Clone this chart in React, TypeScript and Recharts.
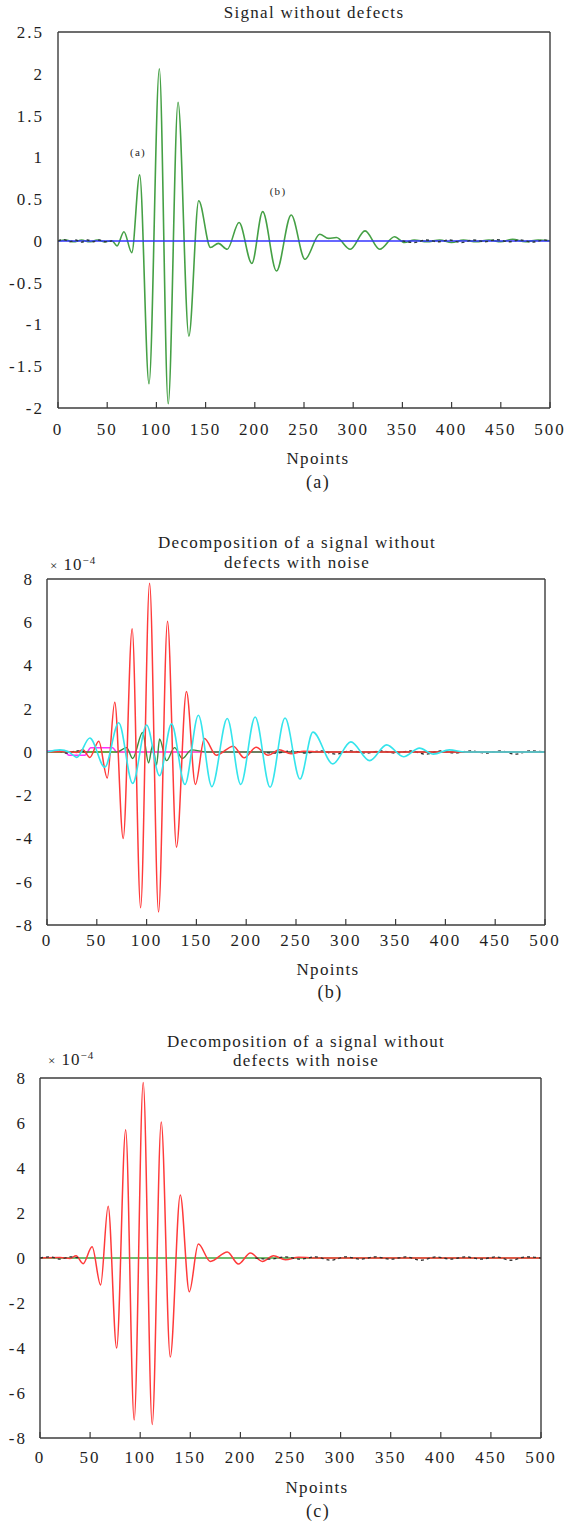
import { LineChart, Line, XAxis, YAxis } from "recharts";

const SERIF = '"Liberation Serif", "Times New Roman", Times, serif';
const AXIS = "#3c3c3c";
const INK = "#1e1e1e";

const X_TICKS = [0, 50, 100, 150, 200, 250, 300, 350, 400, 450, 500];
const Y_TICKS_A = [-2, -1.5, -1, -0.5, 0, 0.5, 1, 1.5, 2, 2.5];
const Y_TICKS_B = [-8, -6, -4, -2, 0, 2, 4, 6, 8];

// (a) signal without defects
const SIGNAL_N = [0, 8, 16, 24, 32, 40, 48, 55, 60, 67, 75, 83, 92.5, 103, 112, 122, 133, 143, 155, 163, 172, 184, 197, 208, 222, 237, 251, 266, 275, 283, 297, 312, 327, 342, 352, 362, 375, 388, 400, 412, 425, 438, 450, 462, 475, 488, 500];
const SIGNAL_V = [0, 0.01, -0.01, 0.01, -0.01, 0.01, -0.01, 0, -0.06, 0.11, -0.14, 0.79, -1.71, 2.06, -1.95, 1.66, -1.14, 0.48, -0.08, -0.03, -0.1, 0.22, -0.27, 0.35, -0.36, 0.31, -0.22, 0.08, 0.03, 0.04, -0.1, 0.12, -0.1, 0.05, -0.02, 0.01, -0.01, 0.01, -0.02, 0.01, -0.01, 0.01, -0.01, 0.02, -0.01, 0.01, 0];
const BASE_N = [0, 500];
const BASE_V = [0, 0];
const NOISE_A_N = [0, 6, 12, 18, 24, 30, 36, 42, 48, 55, 60, 350, 362, 374, 386, 398, 410, 422, 434, 446, 458, 470, 482, 494, 500];
const NOISE_A_V = [0, 0.015, -0.01, 0.01, -0.015, 0.01, -0.01, 0.01, -0.01, 0, null, 0, -0.02, 0.01, -0.01, 0.01, -0.02, 0.01, -0.01, 0.015, -0.01, 0.01, -0.015, 0.01, 0];

// (b)/(c) decomposition, values x 1e-4
const RED_N = [0, 20, 30, 36, 43, 52, 60.5, 68, 76.5, 85.5, 94, 103, 112, 121, 130, 140, 149, 158, 170, 187, 198, 210, 222, 233, 245, 258, 280, 500];
const RED_V = [0, 0.02, -0.02, 0.1, -0.25, 0.5, -1.2, 2.3, -4.0, 5.7, -7.2, 7.8, -7.4, 6.05, -4.4, 2.8, -1.5, 0.62, -0.15, 0.27, -0.27, 0.22, -0.15, 0.1, -0.08, 0.03, 0, 0];
const CYAN_N = [0, 13, 22, 30, 43, 58, 72, 86, 100, 113, 125, 138.5, 152, 165.5, 181, 194.5, 209, 224, 239, 254, 267, 287, 305, 324, 341, 358, 374, 388, 404, 420, 440, 500];
const CYAN_V = [0, 0.1, 0, -0.25, 0.65, -0.7, 1.35, -1.45, 1.25, -1.1, 1.3, -1.5, 1.7, -1.6, 1.55, -1.5, 1.62, -1.63, 1.57, -1.25, 0.92, -0.55, 0.47, -0.4, 0.33, -0.22, 0.18, -0.1, 0.1, 0, 0, 0];
const GREEN_B_N = [0, 70, 80, 86, 96, 102, 106, 110, 113, 120, 128, 136, 145, 160, 500];
const GREEN_B_V = [0, 0, 0.2, -0.3, 0.9, -0.5, 0.3, -0.6, 0.6, -0.4, 0.2, -0.3, 0.1, 0, 0];
const MAGENTA_N = [0, 8, 18, 22, 38, 44, 66, 70, 160, 500];
const MAGENTA_V = [0.05, 0.05, 0, -0.15, -0.15, 0.2, 0.2, 0, 0, 0];
const FLAT_N = [0, 500];
const FLAT_V = [0, 0];
const NOISE_B_N = [0, 10, 20, 30, 40, 200, 215, 230, 245, 260, 275, 290, 305, 320, 335, 350, 365, 380, 395, 410, 425, 440, 455, 470, 485, 500];
const NOISE_B_V = [0, 0.05, -0.05, 0.05, 0, null, 0, -0.05, 0.05, -0.05, 0.05, -0.1, 0.05, -0.05, 0.05, -0.05, 0.05, -0.1, 0.05, -0.05, 0.05, -0.05, 0.05, -0.1, 0.05, 0];

const pts = (n: number[], v: (number | null)[]) => n.map((x, i) => ({ n: x, v: v[i] }));

function BottomTick(props: any) {
  const { x, y, payload } = props;
  return (
    <text x={x} y={y} dy="0.71em" textAnchor="middle" fill={INK} fontSize={17} fontFamily={SERIF} letterSpacing={2}>
      {payload.value}
    </text>
  );
}

function LeftTick(props: any) {
  const { x, y, payload } = props;
  return (
    <text x={x} y={y} dy="0.35em" textAnchor="end" fill={INK} fontSize={17} fontFamily={SERIF} letterSpacing={2}>
      {payload.value}
    </text>
  );
}

type PanelProps = {
  top: number;
  height: number;
  left: number;
  right: number;
  plotTop: number;
  plotBottom: number;
  yDomain: [number, number];
  yTicks: number[];
  xTickMargin: number;
  yTickMargin: number;
  children: React.ReactNode;
};

function Panel({ top, height, left, right, plotTop, plotBottom, yDomain, yTicks, xTickMargin, yTickMargin, children }: PanelProps) {
  const axisLine = { stroke: AXIS, strokeWidth: 1.4 };
  const tickLine = { stroke: AXIS, strokeWidth: 1.2 };
  return (
    <div style={{ position: "absolute", left: 0, top }}>
      <LineChart
        width={569}
        height={height}
        margin={{ top: plotTop - 1, right: 569 - right - 1, bottom: height - plotBottom - 30, left: 0 }}
      >
        <XAxis
          xAxisId="b"
          dataKey="n"
          type="number"
          domain={[0, 500]}
          ticks={X_TICKS}
          interval={0}
          allowDataOverflow
          height={30}
          tickSize={-6}
          tickMargin={xTickMargin}
          axisLine={axisLine}
          tickLine={tickLine}
          tick={<BottomTick />}
        />
        <XAxis
          xAxisId="t"
          orientation="top"
          dataKey="n"
          type="number"
          domain={[0, 500]}
          ticks={X_TICKS}
          interval={0}
          allowDataOverflow
          height={1}
          tickSize={-6}
          axisLine={axisLine}
          tickLine={tickLine}
          tick={false}
        />
        <YAxis
          yAxisId="l"
          type="number"
          domain={yDomain}
          ticks={yTicks}
          interval={0}
          allowDataOverflow
          width={left}
          tickSize={0}
          tickMargin={yTickMargin}
          axisLine={axisLine}
          tickLine={false}
          tick={<LeftTick />}
        />
        <YAxis
          yAxisId="r"
          orientation="right"
          type="number"
          domain={yDomain}
          ticks={yTicks}
          interval={0}
          allowDataOverflow
          width={1}
          tickSize={-6}
          axisLine={axisLine}
          tickLine={tickLine}
          tick={false}
        />
        {/* invisible series that ties the frame axes to the data */}
        <Line xAxisId="t" yAxisId="r" data={[{ n: 0, v: 0 }, { n: 500, v: 0 }]} dataKey="v" stroke="none" dot={false} activeDot={false} isAnimationActive={false} />
        {children}
      </LineChart>
    </div>
  );
}

function Txt({ x, y, size, children }: { x: number; y: number; size: number; children: React.ReactNode }) {
  return (
    <div
      style={{
        position: "absolute",
        left: x - 250,
        top: y - size * 0.6,
        width: 500,
        textAlign: "center",
        fontFamily: SERIF,
        fontSize: size,
        lineHeight: `${size * 1.2}px`,
        letterSpacing: 1.3,
        color: INK,
        whiteSpace: "nowrap",
      }}
    >
      {children}
    </div>
  );
}

function Exponent({ x, y }: { x: number; y: number }) {
  return (
    <div style={{ position: "absolute", left: x, top: y - 10, fontFamily: SERIF, fontSize: 17, color: INK, lineHeight: "20px", letterSpacing: 1 }}>
      <span style={{ fontSize: 13 }}>×</span> 10
      <span style={{ fontSize: 11, position: "relative", top: -6 }}>−4</span>
    </div>
  );
}

function line(data: { n: number; v: number | null }[], color: string, width = 1.5, dash?: string) {
  return (
    <Line
      xAxisId="b"
      yAxisId="l"
      data={data}
      dataKey="v"
      type="monotone"
      stroke={color}
      strokeWidth={width}
      strokeDasharray={dash}
      dot={false}
      activeDot={false}
      connectNulls={false}
      isAnimationActive={false}
    />
  );
}

export default function App() {
  return (
    <div style={{ position: "absolute", left: 0, top: 0, width: 569, height: 1524, background: "#fff" }}>
      {/* (a) */}
      <Panel top={0} height={440} left={58} right={550} plotTop={32} plotBottom={408} yDomain={[-2, 2.5]} yTicks={Y_TICKS_A} xTickMargin={21} yTickMargin={14}>
        {line(pts(SIGNAL_N, SIGNAL_V), "#45a045", 1.6)}
        {line(pts(BASE_N, BASE_V), "#3535ff", 1.5)}
        {line(pts(NOISE_A_N, NOISE_A_V), "#2a3a3a", 1.4, "3 3")}
      </Panel>
      <Txt x={314} y={13} size={17}>Signal without defects</Txt>
      <Txt x={138} y={153} size={11}>(a)</Txt>
      <Txt x={278} y={192} size={11}>(b)</Txt>
      <Txt x={318} y={459} size={17}>Npoints</Txt>
      <Txt x={318} y={483} size={18}>(a)</Txt>

      {/* (b) */}
      <Panel top={500} height={460} left={47} right={545} plotTop={79} plotBottom={425} yDomain={[-8, 8]} yTicks={Y_TICKS_B} xTickMargin={15} yTickMargin={13}>
        {line(pts(FLAT_N, FLAT_V), "#e8e820", 1.5)}
        {line(pts(MAGENTA_N, MAGENTA_V), "#ff30ff", 1.5)}
        {line(pts(GREEN_B_N, GREEN_B_V), "#3c8c3c", 1.4)}
        {line(pts(NOISE_B_N, NOISE_B_V), "#303030", 1.3, "3 3")}
        {line(pts(RED_N, RED_V), "#ff3a3a", 1.5)}
        {line(pts(CYAN_N, CYAN_V), "#35e4ec", 1.6)}
      </Panel>
      <Txt x={297} y={543} size={17}>Decomposition of a signal without</Txt>
      <Txt x={297} y={563} size={17}>defects with noise</Txt>
      <Exponent x={50} y={565} />
      <Txt x={328} y={970} size={17}>Npoints</Txt>
      <Txt x={330} y={993} size={18}>(b)</Txt>

      {/* (c) */}
      <Panel top={1000} height={470} left={40} right={541} plotTop={78} plotBottom={438} yDomain={[-8, 8]} yTicks={Y_TICKS_B} xTickMargin={19} yTickMargin={13}>
        {line(pts(FLAT_N, FLAT_V), "#3fa83f", 1.6)}
        {line(pts(RED_N, RED_V), "#ff3a3a", 1.5)}
        {line(pts(NOISE_B_N, NOISE_B_V), "#303030", 1.3, "3 3")}
      </Panel>
      <Txt x={306} y={1042} size={17}>Decomposition of a signal without</Txt>
      <Txt x={306} y={1061} size={17}>defects with noise</Txt>
      <Exponent x={48} y={1060} />
      <Txt x={317} y={1488} size={17}>Npoints</Txt>
      <Txt x={318} y={1512} size={18}>(c)</Txt>
    </div>
  );
}
